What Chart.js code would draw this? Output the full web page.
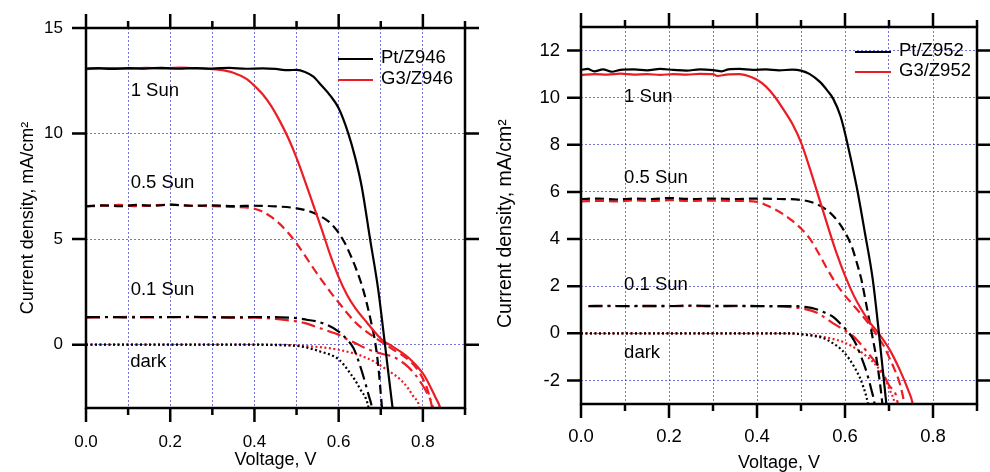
<!DOCTYPE html>
<html>
<head>
<meta charset="utf-8">
<title>J-V curves</title>
<script src="https://cdn.jsdelivr.net/npm/chart.js@4/dist/chart.umd.min.js"></script>
<style>
  html, body { margin: 0; padding: 0; background: #fff; }
  body { width: 990px; height: 472px; position: relative; overflow: hidden; }
  canvas { position: absolute; top: 0; }
  #z946 { left: 0; width: 485px; height: 472px; }
  #z952 { left: 485px; width: 505px; height: 472px; }
</style>
</head>
<body>
<canvas id="z946" width="485" height="472"></canvas>
<canvas id="z952" width="505" height="472"></canvas>
<script>
// Each series: [voltage (V), current density (mA/cm2)]

// ---- Z946 cells ----
const pt946Sun1 = [[0.00,13.08],[0.03,13.10],[0.06,13.06],[0.10,13.10],[0.14,13.08],[0.18,13.11],[0.22,13.07],[0.26,13.10],[0.30,13.08],[0.34,13.11],[0.38,13.07],[0.42,13.09],[0.45,13.06],[0.48,13.00],[0.50,13.02],[0.52,12.92],[0.54,12.70],[0.556,12.35],[0.58,11.80],[0.60,11.20],[0.623,10.00],[0.64,8.80],[0.655,7.46],[0.675,4.95],[0.694,2.60],[0.71,0.00],[0.728,-3.00],[0.732,-3.6]];
const g3946Sun1 = [[0.00,13.05],[0.03,13.08],[0.06,13.10],[0.10,13.07],[0.14,13.11],[0.18,13.08],[0.22,13.12],[0.26,13.09],[0.30,13.05],[0.33,12.98],[0.35,12.88],[0.38,12.60],[0.40,12.26],[0.42,11.85],[0.44,11.30],[0.46,10.60],[0.48,9.80],[0.50,8.85],[0.52,7.75],[0.54,6.60],[0.56,5.45],[0.58,4.25],[0.60,3.20],[0.62,2.35],[0.64,1.72],[0.667,1.05],[0.69,0.50],[0.706,0.18],[0.725,-0.05],[0.746,-0.32],[0.766,-0.62],[0.786,-1.02],[0.803,-1.45],[0.817,-1.97],[0.83,-2.50],[0.841,-3.00],[0.845,-3.4]];
const pt946Sun05 = [[0.00,6.56],[0.04,6.60],[0.08,6.56],[0.12,6.62],[0.16,6.58],[0.20,6.63],[0.25,6.58],[0.30,6.60],[0.35,6.56],[0.40,6.58],[0.45,6.55],[0.50,6.46],[0.53,6.32],[0.555,6.10],[0.575,5.85],[0.59,5.55],[0.60,5.30],[0.615,4.80],[0.63,4.15],[0.645,3.40],[0.659,2.55],[0.671,1.60],[0.68,0.80],[0.686,0.20],[0.694,-1.00],[0.703,-3.00],[0.705,-3.4]];
const g3946Sun05 = [[0.00,6.55],[0.04,6.58],[0.08,6.62],[0.12,6.56],[0.16,6.60],[0.20,6.63],[0.25,6.58],[0.30,6.56],[0.35,6.52],[0.38,6.50],[0.40,6.44],[0.42,6.30],[0.44,6.05],[0.46,5.72],[0.48,5.30],[0.50,4.80],[0.52,4.22],[0.54,3.62],[0.56,3.05],[0.58,2.50],[0.60,2.00],[0.62,1.50],[0.64,1.05],[0.66,0.70],[0.69,0.28],[0.71,0.02],[0.73,-0.24],[0.75,-0.48],[0.77,-0.79],[0.786,-1.15],[0.801,-1.65],[0.812,-2.20],[0.822,-3.00],[0.825,-3.4]];
const pt946Sun01 = [[0.00,1.30],[0.05,1.31],[0.10,1.29],[0.15,1.31],[0.20,1.30],[0.25,1.32],[0.30,1.30],[0.35,1.29],[0.40,1.31],[0.45,1.30],[0.50,1.26],[0.524,1.18],[0.548,1.10],[0.572,0.94],[0.60,0.62],[0.62,0.24],[0.635,-0.16],[0.645,-0.65],[0.655,-1.26],[0.663,-1.80],[0.672,-2.45],[0.679,-3.00],[0.681,-3.4]];
const g3946Sun01 = [[0.00,1.28],[0.05,1.30],[0.10,1.32],[0.15,1.29],[0.20,1.31],[0.25,1.30],[0.30,1.30],[0.35,1.28],[0.40,1.28],[0.45,1.22],[0.50,1.10],[0.52,1.02],[0.556,0.78],[0.585,0.58],[0.60,0.47],[0.615,0.30],[0.639,0.08],[0.667,-0.20],[0.70,-0.42],[0.73,-0.58],[0.746,-0.76],[0.765,-1.05],[0.781,-1.40],[0.797,-1.85],[0.81,-2.30],[0.824,-3.00],[0.827,-3.4]];
const pt946Dark = [[0.00,0.00],[0.10,0.00],[0.20,0.00],[0.30,0.00],[0.40,0.00],[0.45,-0.02],[0.508,-0.08],[0.556,-0.32],[0.60,-0.70],[0.627,-1.34],[0.651,-2.10],[0.671,-3.00],[0.673,-3.3]];
const g3946Dark = [[0.00,0.00],[0.10,0.00],[0.20,0.00],[0.30,0.00],[0.40,0.00],[0.45,0.00],[0.508,-0.05],[0.556,-0.12],[0.60,-0.24],[0.667,-0.63],[0.714,-1.18],[0.754,-1.80],[0.777,-2.44],[0.792,-3.00],[0.794,-3.3]];

// ---- Z952 cells ----
const pt952Sun1 = [[0.00,11.18],[0.015,11.22],[0.03,11.12],[0.05,11.20],[0.07,11.10],[0.09,11.18],[0.12,11.20],[0.15,11.16],[0.18,11.22],[0.21,11.18],[0.24,11.15],[0.27,11.20],[0.30,11.17],[0.32,11.12],[0.335,11.20],[0.36,11.22],[0.39,11.18],[0.42,11.20],[0.45,11.16],[0.48,11.19],[0.50,11.15],[0.52,11.00],[0.543,10.67],[0.56,10.30],[0.573,9.96],[0.59,9.20],[0.603,8.26],[0.626,6.27],[0.645,4.29],[0.663,2.30],[0.677,0.03],[0.694,-3.00],[0.696,-3.4]];
const g3952Sun1 = [[0.00,10.96],[0.03,11.00],[0.06,10.98],[0.09,11.02],[0.12,10.98],[0.15,11.00],[0.18,10.97],[0.21,11.00],[0.24,10.98],[0.27,11.01],[0.30,11.00],[0.31,10.92],[0.33,10.98],[0.36,11.00],[0.38,10.92],[0.40,10.76],[0.42,10.48],[0.44,10.05],[0.46,9.50],[0.48,8.90],[0.50,8.10],[0.52,7.00],[0.54,5.80],[0.56,4.60],[0.58,3.45],[0.60,2.45],[0.62,1.60],[0.637,1.02],[0.655,0.50],[0.675,0.03],[0.701,-0.68],[0.724,-1.53],[0.743,-2.38],[0.754,-3.00],[0.757,-3.4]];
const pt952Sun05 = [[0.00,5.70],[0.04,5.72],[0.08,5.68],[0.12,5.72],[0.16,5.70],[0.20,5.74],[0.25,5.70],[0.30,5.72],[0.35,5.70],[0.40,5.72],[0.45,5.70],[0.50,5.66],[0.543,5.42],[0.573,4.99],[0.60,4.29],[0.615,3.70],[0.626,3.05],[0.637,2.30],[0.649,1.16],[0.662,-0.11],[0.673,-1.25],[0.685,-3.00],[0.687,-3.4]];
const g3952Sun05 = [[0.00,5.60],[0.04,5.62],[0.08,5.60],[0.12,5.64],[0.16,5.62],[0.20,5.65],[0.25,5.62],[0.30,5.63],[0.35,5.62],[0.40,5.58],[0.42,5.45],[0.44,5.27],[0.46,5.05],[0.48,4.78],[0.50,4.45],[0.52,4.02],[0.54,3.40],[0.56,2.72],[0.58,2.10],[0.60,1.60],[0.62,1.17],[0.637,0.80],[0.655,0.38],[0.675,-0.15],[0.69,-0.60],[0.701,-1.05],[0.713,-1.55],[0.724,-2.10],[0.735,-3.00],[0.738,-3.4]];
const pt952Sun01 = [[0.017,1.16],[0.06,1.17],[0.10,1.15],[0.15,1.17],[0.20,1.16],[0.25,1.18],[0.30,1.16],[0.35,1.17],[0.40,1.16],[0.45,1.16],[0.49,1.15],[0.509,1.12],[0.535,1.02],[0.554,0.88],[0.573,0.70],[0.595,0.30],[0.614,-0.11],[0.626,-0.50],[0.638,-1.05],[0.65,-1.70],[0.66,-2.40],[0.667,-3.00],[0.669,-3.4]];
const g3952Sun01 = [[0.017,1.14],[0.06,1.15],[0.10,1.16],[0.15,1.14],[0.20,1.15],[0.25,1.16],[0.30,1.14],[0.35,1.15],[0.40,1.14],[0.45,1.13],[0.486,1.10],[0.504,1.05],[0.535,0.88],[0.554,0.67],[0.577,0.38],[0.60,0.12],[0.618,-0.11],[0.633,-0.40],[0.655,-0.90],[0.68,-1.50],[0.70,-2.20],[0.72,-3.00],[0.722,-3.4]];
const pt952Dark = [[0.00,0.00],[0.10,0.00],[0.20,0.00],[0.30,0.00],[0.40,0.00],[0.475,0.00],[0.50,-0.04],[0.525,-0.10],[0.55,-0.20],[0.575,-0.45],[0.595,-0.75],[0.61,-1.10],[0.622,-1.46],[0.633,-1.85],[0.641,-2.24],[0.652,-3.00],[0.654,-3.3]];
const g3952Dark = [[0.00,0.00],[0.10,0.00],[0.20,0.00],[0.30,0.00],[0.40,0.00],[0.47,0.00],[0.50,-0.03],[0.55,-0.15],[0.60,-0.40],[0.625,-0.65],[0.649,-0.97],[0.668,-1.30],[0.683,-1.67],[0.693,-2.00],[0.701,-2.38],[0.713,-3.00],[0.715,-3.3]];

// axes
const xTickValues = [0, 0.1, 0.2, 0.3, 0.4, 0.5, 0.6, 0.7, 0.8, 0.9];
const xLabelValues = [0, 0.2, 0.4, 0.6, 0.8];
const yTicks946 = [0, 5, 10, 15];
const yTicks952 = [-2, 0, 2, 4, 6, 8, 10, 12];

// light-intensity captions and where they sit (data units)
const conditionNames = ['1 Sun', '0.5 Sun', '0.1 Sun', 'dark'];
const notes946 = [[0.106, 12.0], [0.106, 7.66], [0.106, 2.6], [0.105, -0.83]];
const notes952 = [[0.098, 10.03], [0.098, 6.58], [0.098, 2.04], [0.098, -0.85]];

Chart.defaults.font.family = "'Liberation Sans', Arial, Helvetica, sans-serif";
Chart.defaults.color = '#000';

const RED = '#ec1c24';
const BLACK = '#000000';
const GRID = 'rgba(60, 60, 200, 0.7)';
const DASHES = { full: [], half: [9, 5], tenth: [14, 5, 3, 5], dark: [2, 2.5] };

function curve(label, data, color, dash) {
  return {
    label: label,
    data: data,
    borderColor: color,
    borderDash: dash,
    borderWidth: 2.2,
    pointRadius: 0,
    fill: false,
    cubicInterpolationMode: 'monotone'
  };
}

// thick frame, outward ticks on every side, legend and captions
const framePlugin = {
  id: 'frame',
  afterDraw(chart, args, o) {
    const { ctx, chartArea: a, scales: { x, y } } = chart;
    ctx.save();
    ctx.setLineDash([]);
    ctx.strokeStyle = '#000';
    ctx.lineWidth = 2.5;
    ctx.strokeRect(a.left, a.top, a.width, a.height);
    ctx.beginPath();
    xTickValues.forEach(v => {
      const px = x.getPixelForValue(v);
      const len = xLabelValues.includes(v) ? o.major : o.minor;
      ctx.moveTo(px, a.bottom); ctx.lineTo(px, a.bottom + len);
      ctx.moveTo(px, a.top); ctx.lineTo(px, a.top - len);
    });
    o.yTicks.forEach(v => {
      const py = y.getPixelForValue(v);
      ctx.moveTo(a.left - o.major, py); ctx.lineTo(a.left, py);
      ctx.moveTo(a.right, py); ctx.lineTo(a.right + o.major, py);
    });
    ctx.stroke();

    ctx.font = o.font;
    ctx.textBaseline = 'middle';
    ctx.textAlign = 'left';
    ctx.fillStyle = '#000';

    const lg = o.legend;
    [0, 1].forEach(i => {
      const ds = chart.data.datasets[i];
      const lx = a.left + lg.x;
      const ly = a.top + lg.y + i * lg.dy;
      ctx.beginPath();
      ctx.setLineDash([]);
      ctx.lineWidth = 2.2;
      ctx.strokeStyle = ds.borderColor;
      ctx.moveTo(lx, ly);
      ctx.lineTo(lx + lg.len, ly);
      ctx.stroke();
      ctx.fillText(ds.label, lx + lg.len + lg.gap, ly - 1);
    });

    o.notes.forEach((p, i) => {
      ctx.fillText(conditionNames[i], x.getPixelForValue(p[0]), y.getPixelForValue(p[1]));
    });
    ctx.restore();
  }
};

function panel(id, p) {
  const ctx = document.getElementById(id).getContext('2d');
  new Chart(ctx, {
    type: 'line',
    data: {
      datasets: [
        curve(p.names[0], p.series[0], BLACK, DASHES.full),
        curve(p.names[1], p.series[1], RED, DASHES.full),
        curve(p.names[0], p.series[2], BLACK, DASHES.half),
        curve(p.names[1], p.series[3], RED, DASHES.half),
        curve(p.names[0], p.series[4], BLACK, DASHES.tenth),
        curve(p.names[1], p.series[5], RED, DASHES.tenth),
        curve(p.names[0], p.series[6], BLACK, DASHES.dark),
        curve(p.names[1], p.series[7], RED, DASHES.dark)
      ]
    },
    options: {
      responsive: false,
      devicePixelRatio: 1,
      animation: false,
      events: [],
      layout: { padding: { left: 0, top: p.top, right: p.right, bottom: 0 } },
      plugins: {
        legend: { display: false },
        tooltip: { enabled: false },
        frame: {
          yTicks: p.yTicks, major: 14, minor: 7,
          font: '18.5px "Liberation Sans", Arial, sans-serif',
          legend: p.legend, notes: p.notes
        }
      },
      scales: {
        x: {
          type: 'linear', min: 0, max: 0.9,
          afterBuildTicks: s => { s.ticks = xTickValues.map(v => ({ value: v })); },
          afterFit: s => { s.height = p.xAxisHeight; s.paddingLeft = 0; s.paddingRight = 0; },
          grid: { color: GRID, lineWidth: 1, drawTicks: false },
          border: { display: false, dash: [2, 2] },
          ticks: {
            autoSkip: false, maxRotation: 0, padding: p.xPad,
            font: { size: p.tickSize },
            callback: v => xLabelValues.includes(v) ? v.toFixed(1) : ''
          },
          title: {
            display: true, text: 'Voltage, V',
            font: { size: 18, lineHeight: 1 },
            padding: { top: 0, bottom: p.xTitlePad }
          }
        },
        y: {
          type: 'linear', min: p.yMin, max: p.yMax,
          afterBuildTicks: s => { s.ticks = p.yTicks.map(v => ({ value: v })); },
          afterFit: s => { s.width = p.yAxisWidth; s.paddingTop = 0; s.paddingBottom = 0; },
          grid: { color: GRID, lineWidth: 1, drawTicks: false },
          border: { display: false, dash: [2, 2] },
          ticks: { padding: p.yPad, font: { size: p.tickSize }, callback: v => String(v) },
          title: {
            display: true, text: p.yTitle,
            font: { size: p.yTitleSize, lineHeight: 1 },
            padding: { top: p.yTitlePad, bottom: 0 }
          }
        }
      }
    },
    plugins: [framePlugin]
  });
}

panel('z946', {
  names: ['Pt/Z946', 'G3/Z946'],
  series: [pt946Sun1, g3946Sun1, pt946Sun05, g3946Sun05, pt946Sun01, g3946Sun01, pt946Dark, g3946Dark],
  yMin: -3, yMax: 15, yTicks: yTicks946,
  top: 28, right: 20, yAxisWidth: 86, xAxisHeight: 64,
  tickSize: 17, xPad: 24, yPad: 23,
  yTitle: 'Current density, mA/cm²', yTitleSize: 18, yTitlePad: 19, xTitlePad: 3,
  legend: { x: 252, y: 31, dy: 21, len: 35, gap: 8 },
  notes: notes946
});

panel('z952', {
  names: ['Pt/Z952', 'G3/Z952'],
  series: [pt952Sun1, g3952Sun1, pt952Sun05, g3952Sun05, pt952Sun01, g3952Sun01, pt952Dark, g3952Dark],
  yMin: -3, yMax: 13, yTicks: yTicks952,
  top: 27, right: 13, yAxisWidth: 96, xAxisHeight: 68,
  tickSize: 18.5, xPad: 21.5, yPad: 21,
  yTitle: 'Current density, mA/cm²   ', yTitleSize: 19.5, yTitlePad: 11, xTitlePad: 0,
  legend: { x: 274, y: 25, dy: 20, len: 36, gap: 8 },
  notes: notes952
});
</script>
</body>
</html>
